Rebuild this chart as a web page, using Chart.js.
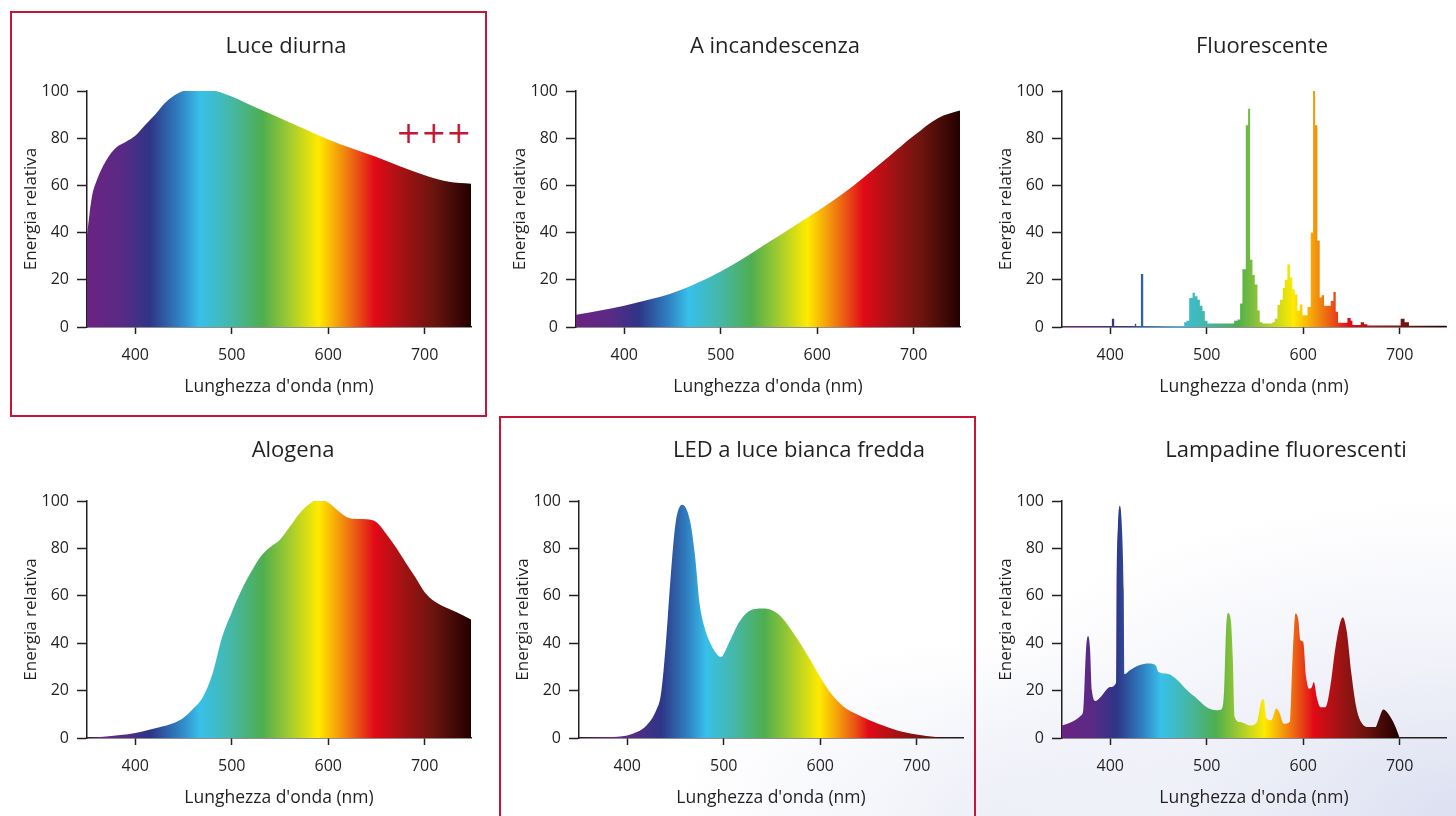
<!DOCTYPE html>
<html lang="it">
<head>
<meta charset="utf-8">
<title>Spettri delle sorgenti luminose</title>
<script src="https://cdn.jsdelivr.net/npm/chart.js@4.4.1/dist/chart.umd.min.js"></script>
<style>
  html, body { margin: 0; padding: 0; }
  body {
    width: 1456px; height: 816px; position: relative; overflow: hidden;
    background: #fff; font-family: "Open Sans", sans-serif;
  }
  .bg {
    position: absolute; inset: 0;
    background:
      radial-gradient(ellipse 560px 320px at 1456px 816px, rgba(214,218,238,0.85), rgba(230,232,245,0.55) 50%, rgba(255,255,255,0) 100%),
      radial-gradient(ellipse 320px 180px at 990px 816px, rgba(228,231,243,0.6), rgba(255,255,255,0) 100%);
  }
  canvas { position: absolute; }
  .frame { position: absolute; border: 2px solid #c5163a; box-sizing: border-box; }
  .plus {
    position: absolute; left: 396px; top: 118px; color: #c5163a;
    font: 30px/30px "DejaVu Sans", sans-serif; white-space: nowrap;
  }
</style>
</head>
<body>
<div class="bg"></div>
<div class="frame" style="left:10px;top:11px;width:477px;height:406px;"></div>
<div class="frame" style="left:499px;top:416px;width:477px;height:430px;"></div>
<div class="plus">+++</div>

<script>
// tick labels
const xTicks = [400, 500, 600, 700];
const yTicks = [0, 20, 40, 60, 80, 100];

// Luce diurna
const luceWl  = [350, 355, 360, 370, 380, 390, 400, 410, 420, 430, 440, 450, 465, 480, 500, 525, 550, 575, 600, 625, 650, 675, 700, 725, 750];
const luceVal = [39, 55, 62, 70.7, 76, 78.4, 81, 85.5, 89.7, 94.6, 98, 100, 100.8, 100.3, 97.7, 93, 88.6, 84, 79.4, 75.6, 72, 68, 64.3, 61.5, 60.6];

// A incandescenza
const incWl  = [350, 375, 400, 425, 450, 475, 500, 525, 550, 575, 600, 625, 650, 675, 700, 725, 750];
const incVal = [5.2, 7, 9, 11.5, 14.4, 18.5, 23.5, 29.5, 36, 42.5, 49, 56, 64, 72.5, 81, 88.5, 92];

// Fluorescente (histogram, each value starts at its wavelength)
const fluoWl  = [350, 401.7, 404.1, 425.5, 426.9, 431.8, 434.2, 476.6, 479, 481.8, 485.3, 487.7, 490.4, 492.9, 495.6, 498, 500.8,
                 528.4, 531.9, 534.6, 537, 540.5, 542.9, 545, 547.4, 549.8, 552.6, 555, 557.8, 568.1, 570.5, 573.3, 576, 578.8,
                 580.9, 583.6, 586.4, 588.8, 591.2, 594, 596.4, 599.2, 604.4, 607.8, 610.2, 612.3, 614.7, 617.1, 619.2, 621.6,
                 628.5, 631.3, 633.7, 636.1, 645.8, 649.2, 651, 659.6, 663, 666.5, 701, 705.1, 709.6, 750];
const fluoVal = [0.4, 3.5, 0.4, 1.4, 0.4, 22.5, 0.4, 2, 2.7, 12.3, 14.5, 13, 11.5, 9, 6.8, 2.7, 1.5,
                 2.7, 3.2, 10, 24.5, 85.5, 92.5, 28.5, 22, 18, 7, 2, 1.5, 2, 3.5, 9.3, 11.5, 16.5,
                 20, 26.5, 21, 16, 13.8, 6.9, 9.5, 5, 8.5, 40, 100, 85.5, 36.5, 12.5, 13.5, 9,
                 11, 14.8, 6.5, 1.8, 3.8, 2.7, 0.8, 2, 1.2, 0.6, 3.5, 2, 0.5, 0.5];

// Alogena
const aloWl  = [350, 370, 400, 425, 440, 450, 460, 470, 480, 490, 500, 510, 520, 530, 540, 550, 560, 570, 580, 590, 600, 610, 620, 630, 640, 650, 660, 670, 680, 690, 700, 710, 725, 740, 750];
const aloVal = [0, 0.6, 2.1, 4.5, 6.3, 8.5, 12.3, 17.2, 27, 42.5, 53, 62.3, 70, 76.6, 80.6, 83.7, 89, 94.6, 98.6, 100.7, 99.4, 96, 93, 92.4, 92.3, 91, 86.2, 80.6, 74.2, 68, 61.5, 57.7, 54.5, 51.7, 49.6];

// LED a luce bianca fredda
const ledWl  = [350, 380, 400, 410, 420, 430, 435, 440, 445, 450, 457, 465, 470, 475, 480, 490, 497, 505, 515, 525, 540, 550, 560, 575, 590, 600, 610, 625, 640, 660, 680, 700, 720, 740, 750];
const ledVal = [0, 0.4, 1.1, 2.5, 5.3, 11.7, 18.7, 39.8, 68, 90.4, 98.4, 91.8, 77.8, 56.7, 46.8, 37, 34.2, 39.8, 48.2, 53.2, 54.6, 53.9, 51, 42.6, 32.8, 25.7, 19.4, 13, 9.6, 6, 3.2, 1.5, 0.4, 0, 0];

// Lampadine fluorescenti
const lampWl  = [350, 360, 370, 372, 375, 377, 379, 381, 385, 390, 400, 406, 406.5, 408, 410, 412, 414, 415, 420, 430, 440, 447, 450, 460, 470, 480, 490, 500,
                 510, 515, 518, 520, 522, 525, 527, 529, 535, 545, 552, 557, 559, 562, 567, 572, 575, 580, 586, 589, 592, 595, 597, 600, 603, 606,
                 609, 611, 614, 618, 623, 628, 633, 638, 641, 645, 650, 655, 660, 668, 675, 678, 683, 688, 695, 700];
const lampVal = [5.3, 6.75, 9.6, 11.7, 38, 43, 38, 20, 15.6, 17.3, 21.5, 23.2, 62, 90, 98, 90, 62, 27, 28.5, 30.7, 31.4, 30.7, 27.8, 27, 24.3, 20, 16.6, 13,
                 11.7, 12, 20, 45.4, 52.7, 49.6, 34, 8.9, 6.75, 5.3, 6.75, 15.9, 16.3, 8.2, 7.5, 12.4, 11, 6, 6.75, 34, 52.5, 49.6, 41.2, 40.5, 25.7, 20.8,
                 21.5, 23.6, 17.3, 13, 13, 21.5, 37, 48.2, 51, 45.4, 27, 13, 6.75, 4.6, 4.6, 7.5, 12, 10.3, 5.3, 0];

// spectrum colours along the wavelength axis (one stop list per look)
const specColors = ['#6b2382', '#5a2a85', '#2e3587', '#2f7fc0', '#38c0ea', '#45b7a5', '#4eae4f', '#a2cb2f',
                    '#ffea00', '#f5a00a', '#ea5316', '#e20a17', '#9e1314', '#6a140e', '#1e0000'];
const specStops  = [350, 385, 415, 445, 467, 500, 532, 560, 590, 610, 630, 648, 680, 710, 750];
const ledStops   = [350, 400, 435, 462, 482, 512, 542, 570, 599, 618, 636, 650, 682, 712, 750];
const lampStops  = specStops.map(w => 350 + (w - 350) * 0.875);

const INK = '#231f20';
Chart.defaults.font.family = '"Open Sans", sans-serif';
Chart.defaults.color = INK;

const spectrumFill = (stops) => (ctx) => {
    const chart = ctx.chart;
    const xs = chart.scales.x;
    if (!chart.chartArea || !xs) return 'rgba(0,0,0,0)';
    const x0 = xs.getPixelForValue(stops[0]);
    const x1 = xs.getPixelForValue(stops[stops.length - 1]);
    const g = chart.ctx.createLinearGradient(x0, 0, x1, 0);
    const span = stops[stops.length - 1] - stops[0];
    stops.forEach((w, i) => g.addColorStop((w - stops[0]) / span, specColors[i]));
    return g;
};

// moves the title sideways from the plot centre
const titleShift = {
    id: 'titleShift',
    afterLayout(chart, args, opts) {
        const t = chart.titleBlock;
        if (t && opts.dx) { t.left += opts.dx; t.right += opts.dx; }
    }
};

const panels = [
    { title: 'Luce diurna', wl: luceWl, val: luceVal, l: 87, t: 91, r: 471, b: 327, ty: 47, dx: 7 },
    { title: 'A incandescenza', wl: incWl, val: incVal, l: 576, t: 91, r: 960, b: 327, ty: 47, dx: 7 },
    { title: 'Fluorescente', wl: fluoWl, val: fluoVal, l: 1062, t: 91, r: 1446, b: 327, ty: 47, dx: 8, stepped: true },
    { title: 'Alogena', wl: aloWl, val: aloVal, l: 87, t: 501, r: 471, b: 738, ty: 451, dx: 14 },
    { title: 'LED a luce bianca fredda', wl: ledWl, val: ledVal, l: 579, t: 501, r: 963, b: 738, ty: 451, dx: 28, stops: ledStops },
    { title: 'Lampadine fluorescenti', wl: lampWl, val: lampVal, l: 1062, t: 501, r: 1446, b: 738, ty: 451, dx: 32, stops: lampStops }
];

const TOP = 70, YW = 70, XH = 75, PR = 14, PB = 3, TITLE_LH = 22 * 1.2;

panels.forEach(p => {
    const canvas = document.createElement('canvas');
    const left = p.l - YW, top = p.t - TOP;
    const w = (p.r - p.l) + YW + PR, h = TOP + (p.b - p.t) + XH + PB;
    canvas.width = w; canvas.height = h;
    canvas.style.left = left + 'px'; canvas.style.top = top + 'px';
    canvas.style.width = w + 'px'; canvas.style.height = h + 'px';
    document.body.appendChild(canvas);

    const padTop = p.ty - top - TITLE_LH / 2;
    const padBottom = TOP - TITLE_LH - padTop;

    new Chart(canvas, {
        type: 'line',
        data: {
            datasets: [{
                data: p.wl.map((x, i) => ({ x, y: p.val[i] })),
                fill: 'origin',
                backgroundColor: spectrumFill(p.stops || specStops),
                borderColor: 'rgba(0,0,0,0)',
                borderWidth: 0,
                pointRadius: 0,
                stepped: p.stepped ? 'before' : false,
                cubicInterpolationMode: 'monotone'
            }]
        },
        options: {
            responsive: false,
            animation: false,
            events: [],
            layout: { padding: { left: 0, top: 0, right: PR, bottom: PB } },
            plugins: {
                legend: { display: false },
                tooltip: { enabled: false },
                title: {
                    display: true,
                    text: p.title,
                    fullSize: false,
                    color: INK,
                    font: { size: 22, weight: 'normal' },
                    padding: { top: padTop, bottom: padBottom }
                },
                titleShift: { dx: p.dx }
            },
            scales: {
                x: {
                    type: 'linear',
                    min: 350,
                    max: 748,
                    afterBuildTicks: s => { s.ticks = xTicks.map(v => ({ value: v })); },
                    afterFit: s => { s.height = XH; },
                    ticks: { font: { size: 16 }, color: INK, padding: 12, maxRotation: 0 },
                    grid: { display: true, drawOnChartArea: false, drawTicks: true, tickLength: 7, tickWidth: 1.5, tickColor: INK },
                    border: { display: true, color: INK, width: 1.5 },
                    title: { display: true, text: "Lunghezza d'onda (nm)", color: INK, font: { size: 17.5 }, padding: { top: 4, bottom: 4 } }
                },
                y: {
                    min: 0,
                    max: 100,
                    afterBuildTicks: s => { s.ticks = yTicks.map(v => ({ value: v })); },
                    afterFit: s => { s.width = YW; },
                    ticks: { font: { size: 16 }, color: INK, padding: 8 },
                    grid: { display: true, drawOnChartArea: false, drawTicks: true, tickLength: 10, tickWidth: 1.5, tickColor: INK },
                    border: { display: true, color: INK, width: 1.5 },
                    title: { display: true, text: 'Energia relativa', color: INK, font: { size: 17 }, padding: { top: 4, bottom: 4 } }
                }
            }
        },
        plugins: [titleShift]
    });
});
</script>
</body>
</html>
